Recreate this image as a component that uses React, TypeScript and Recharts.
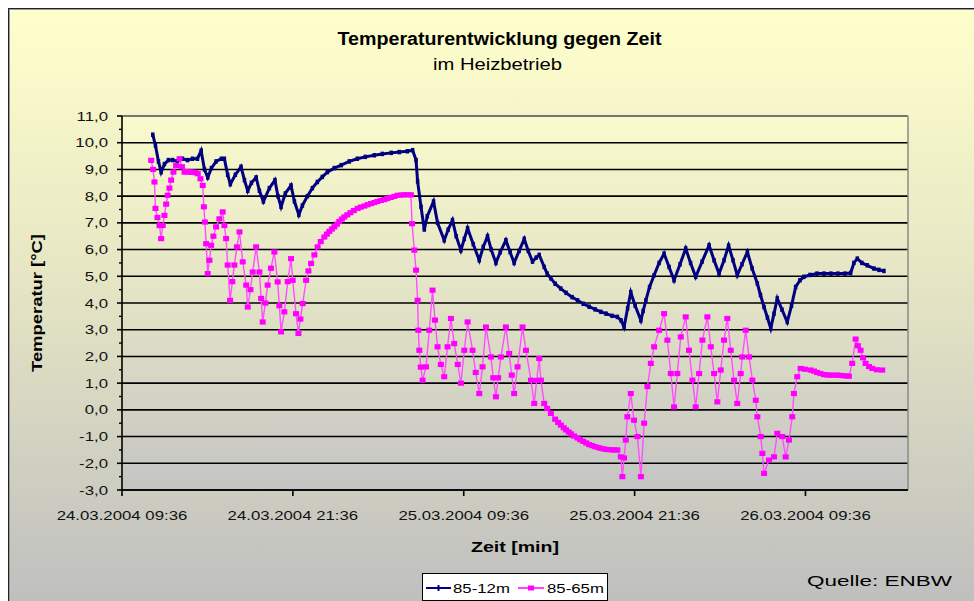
import React from 'react';
import { LineChart, Line, XAxis, YAxis, CartesianGrid, ReferenceLine, Legend } from 'recharts';

const FONT = '"Liberation Sans", Arial, Helvetica, sans-serif';
const SX = 1.4;

const seriesNames = ['85-12m', '85-65m'];
const seriesColors = ['#000080', '#ff00ff'];

const Y_MIN = -3;
const Y_MAX = 11;
const yTicks = [-3, -2, -1, 0, 1, 2, 3, 4, 5, 6, 7, 8, 9, 10, 11];
const X_MAX = 55.2;
const xTicks = [0, 12, 24, 36, 48];
const xTickLabels = ['24.03.2004 09:36', '24.03.2004 21:36', '25.03.2004 09:36', '25.03.2004 21:36', '26.03.2004 09:36'];

// hours after 24.03.2004 09:36
const navyHours = [2.16,2.35,2.56,2.75,2.98,3.26,3.56,3.89,4.25,4.60,4.95,5.30,5.56,5.79,6.02,6.28,6.61,6.98,7.19,7.42,7.61,7.96,8.36,8.60,8.83,9.09,9.42,9.65,9.93,10.35,10.74,10.95,11.17,11.47,11.87,12.11,12.42,12.67,13.02,13.37,13.72,14.07,14.42,14.91,15.40,15.96,16.53,17.09,17.72,18.28,18.91,19.47,20.04,20.41,20.65,20.76,21.00,21.23,21.44,21.88,22.16,22.63,22.91,23.21,23.47,23.80,24.04,24.27,24.67,25.09,25.37,25.67,25.93,26.26,26.56,26.96,27.26,27.54,27.89,28.25,28.53,28.83,29.09,29.30,29.65,29.86,30.12,30.42,30.82,31.19,31.61,31.99,32.39,32.81,33.23,33.63,34.00,34.42,34.79,35.05,35.26,35.51,35.73,36.04,36.44,36.60,36.79,37.05,37.37,37.72,38.07,38.42,38.77,39.19,39.59,39.93,40.29,40.74,41.23,41.58,41.93,42.28,42.60,42.91,43.21,43.54,43.92,44.25,44.62,44.84,45.09,45.33,45.56,45.79,46.02,46.35,46.72,47.02,47.31,47.61,47.89,48.32,48.81,49.30,49.79,50.28,50.77,51.17,51.40,51.64,51.96,52.34,52.81,53.16,53.51];
const navyTemps = [10.3,9.9,9.3,8.9,9.2,9.35,9.35,9.3,9.4,9.35,9.4,9.4,9.7,9.0,8.7,9.05,9.3,9.4,9.4,8.8,8.45,8.8,9.1,8.6,8.2,8.5,8.7,8.2,7.8,8.3,8.6,8.0,7.6,8.1,8.4,7.8,7.3,7.65,8.0,8.3,8.53,8.72,8.9,9.05,9.16,9.3,9.4,9.47,9.53,9.58,9.62,9.65,9.68,9.72,9.35,8.55,7.6,6.75,7.25,7.8,7.0,6.35,6.75,7.1,6.5,5.97,6.4,6.8,6.2,5.6,6.1,6.5,6.0,5.5,5.9,6.35,5.9,5.5,5.95,6.4,5.95,5.55,5.7,5.8,5.35,5.1,4.92,4.72,4.54,4.38,4.22,4.1,3.97,3.86,3.76,3.67,3.6,3.52,3.48,3.35,3.1,3.8,4.4,3.9,3.35,3.7,4.1,4.6,5.04,5.5,5.85,5.35,4.85,5.45,6.04,5.5,4.98,5.55,6.16,5.6,5.1,5.6,6.15,5.6,5.04,5.45,5.91,5.3,4.73,4.3,3.85,3.45,3.05,3.6,4.17,3.75,3.29,3.9,4.6,4.85,4.98,5.05,5.1,5.1,5.1,5.1,5.1,5.12,5.5,5.66,5.5,5.41,5.29,5.24,5.2];

const pinkHours = [2.05,2.18,2.28,2.35,2.49,2.63,2.75,2.86,2.98,3.10,3.21,3.33,3.45,3.61,3.80,4.04,4.21,4.39,4.67,4.97,5.32,5.51,5.67,5.75,5.82,5.91,6.02,6.14,6.26,6.42,6.61,6.84,7.07,7.19,7.31,7.42,7.59,7.75,7.89,8.07,8.25,8.48,8.72,8.83,9.02,9.18,9.42,9.65,9.77,9.88,10.07,10.23,10.46,10.70,10.93,11.05,11.17,11.40,11.64,11.87,11.99,12.22,12.39,12.53,12.69,12.93,13.09,13.28,13.51,13.74,13.96,14.21,14.56,14.91,15.26,15.61,16.04,16.55,17.02,17.49,17.93,18.42,18.88,19.35,19.82,20.29,20.37,20.53,20.65,20.76,20.81,20.88,20.98,21.11,21.35,21.58,21.81,21.98,22.16,22.39,22.63,22.86,23.10,23.33,23.58,23.80,24.04,24.27,24.62,24.84,25.09,25.32,25.56,25.91,26.07,26.26,26.42,26.61,26.96,27.19,27.37,27.54,27.78,28.13,28.37,28.72,28.95,29.12,29.30,29.42,29.65,29.86,30.12,30.42,30.82,31.19,31.54,31.99,32.39,32.81,33.23,33.63,34.00,34.42,34.79,35.03,35.14,35.26,35.38,35.49,35.73,35.96,36.20,36.44,36.67,36.90,37.14,37.37,37.72,38.07,38.30,38.54,38.77,39.00,39.24,39.59,39.82,40.06,40.29,40.53,40.76,41.11,41.35,41.58,41.81,42.05,42.28,42.51,42.75,42.98,43.21,43.45,43.56,43.80,44.04,44.27,44.51,44.62,44.86,44.97,45.09,45.44,45.79,46.02,46.37,46.61,46.84,47.07,47.19,47.42,47.66,47.96,48.36,48.81,49.30,49.72,50.23,50.63,51.05,51.28,51.52,51.68,51.87,52.04,52.22,52.46,52.69,53.02,53.39];
const pinkTemps = [9.34,9.0,8.53,7.54,7.2,6.9,6.41,6.9,7.28,7.7,8.03,8.3,8.6,8.9,9.15,9.4,9.1,8.9,8.9,8.9,8.84,8.65,8.4,7.6,7.03,6.22,5.1,5.6,6.16,6.5,6.85,7.15,7.41,6.9,6.41,5.42,4.1,4.8,5.42,6.1,6.66,5.54,4.67,3.85,4.5,5.16,6.1,5.16,4.17,3.29,4.0,4.67,5.3,5.91,4.79,3.9,2.92,3.67,4.8,5.66,4.85,3.6,2.86,3.4,3.98,4.85,5.2,5.48,5.8,6.1,6.3,6.47,6.68,6.85,7.05,7.22,7.38,7.54,7.63,7.72,7.8,7.87,7.95,8.03,8.05,8.05,6.97,5.98,5.23,4.1,2.98,2.23,1.6,1.11,1.61,2.98,4.48,3.36,2.36,1.7,1.24,2.36,3.42,2.48,1.7,1.0,2.23,3.29,2.23,1.4,0.61,1.61,3.1,1.98,1.2,0.49,1.2,1.98,3.1,2.11,1.3,0.61,1.61,3.1,2.23,1.11,0.24,1.1,1.92,1.11,0.24,0.05,-0.13,-0.35,-0.57,-0.75,-0.9,-1.05,-1.18,-1.3,-1.38,-1.44,-1.48,-1.5,-1.5,-1.76,-2.5,-1.8,-1.13,-0.26,0.61,-0.39,-1.0,-2.5,-0.5,0.87,1.74,2.36,2.98,3.6,2.61,1.36,0.11,1.36,2.73,3.48,2.23,1.11,0.11,1.36,2.61,3.48,2.36,1.36,0.3,1.49,2.61,3.42,2.23,1.11,0.24,1.36,1.98,2.98,1.98,1.11,0.36,-0.26,-1.0,-1.63,-2.38,-1.88,-1.76,-0.88,-1.0,-1.76,-1.13,-0.26,0.61,1.24,1.55,1.52,1.49,1.4,1.32,1.3,1.3,1.28,1.26,1.74,2.65,2.4,2.23,1.95,1.74,1.62,1.55,1.5,1.49];

// further readings along the smooth stretches of 85-65m
const pinkMoreHours = [4.53,4.82,5.15,14.39,14.74,15.09,15.44,15.82,16.28,16.77,17.25,17.72,18.18,18.63,19.12,19.58,20.06,30.63,31.02,31.37,31.75,32.18,32.60,33.02,33.44,33.82,34.21,34.60,48.60,49.05,49.51,49.96,50.42,50.84];
const pinkMoreTemps = [8.92,8.9,8.88,6.58,6.77,6.95,7.14,7.3,7.46,7.59,7.68,7.76,7.84,7.91,7.99,8.04,8.05,-0.47,-0.67,-0.83,-0.98,-1.12,-1.24,-1.34,-1.41,-1.46,-1.49,-1.5,1.45,1.36,1.31,1.3,1.29,1.27];

const navyData = navyHours.map((h, i) => ({ h, v: navyTemps[i] }));
const pinkData = pinkHours
  .map((h, i) => ({ h, v: pinkTemps[i] }))
  .concat(pinkMoreHours.map((h, i) => ({ h, v: pinkMoreTemps[i] })))
  .sort((a, b) => a.h - b.h);

const fmtY = (v: number) => v.toFixed(1).replace('.', ',');

const YTick = (props: any) => {
  const { x, y, payload, height } = props;
  const axisX = x + 8;
  const h = typeof height === 'number' && height > 0 ? height : 374;
  const half = h / ((Y_MAX - Y_MIN) * 2);
  return (
    <g>
      {payload.value < Y_MAX && (
        <line x1={axisX - 3} x2={axisX} y1={y - half} y2={y - half} stroke="#000" strokeWidth={1.4} />
      )}
      <text
        transform={`translate(${axisX - 14} ${y + 4.5}) scale(${SX} 1)`}
        textAnchor="end"
        fontSize={12}
        fill="#111"
        fontFamily={FONT}
      >
        {fmtY(payload.value)}
      </text>
    </g>
  );
};

const XTick = (props: any) => {
  const { x, y, payload } = props;
  const idx = xTicks.indexOf(payload.value);
  return (
    <text
      transform={`translate(${x} ${y + 22}) scale(${SX} 1)`}
      textAnchor="middle"
      fontSize={12}
      fill="#111"
      fontFamily={FONT}
    >
      {idx >= 0 ? xTickLabels[idx] : ''}
    </text>
  );
};

const NavyDot = (p: any) => {
  if (p.cx == null || p.cy == null) return <g key={`n${p.index}`} />;
  return <rect key={`n${p.index}`} x={p.cx - 1.75} y={p.cy - 2.25} width={3.5} height={4.5} fill={seriesColors[0]} />;
};

const PinkDot = (p: any) => {
  if (p.cx == null || p.cy == null) return <g key={`p${p.index}`} />;
  return <rect key={`p${p.index}`} x={p.cx - 3} y={p.cy - 2.6} width={6} height={5.2} fill={seriesColors[1]} />;
};

const LegendBox = () => (
  <svg width={186} height={28} style={{ display: 'block' }}>
    <rect x={0.5} y={0.5} width={185} height={27} fill="#fff" stroke="#000" strokeWidth={1} />
    <line x1={4} x2={29} y1={15} y2={15} stroke={seriesColors[0]} strokeWidth={2} />
    <line x1={16.5} x2={16.5} y1={12} y2={18} stroke={seriesColors[0]} strokeWidth={2} />
    <text transform={`translate(31 19.5) scale(${SX} 1)`} fontSize={12} fontFamily={FONT} fill="#000">
      {seriesNames[0]}
    </text>
    <line x1={96} x2={122} y1={15} y2={15} stroke={seriesColors[1]} strokeWidth={1.5} />
    <rect x={106} y={12.5} width={6} height={5} fill={seriesColors[1]} />
    <text transform={`translate(125 19.5) scale(${SX} 1)`} fontSize={12} fontFamily={FONT} fill="#000">
      {seriesNames[1]}
    </text>
  </svg>
);

export default function App() {
  return (
    <div
      style={{
        position: 'fixed',
        left: 8,
        top: 8,
        width: 966,
        height: 593,
        overflow: 'hidden',
        background: 'linear-gradient(180deg, #ffffcc 0%, #e6e6c4 45%, #bfbfbf 100%)',
        boxShadow: 'inset 1px 1px 0 #222, inset 2px 2px 0 #999',
        fontFamily: FONT,
      }}
    >
      <LineChart width={966} height={593} margin={{ top: 108, right: 66, bottom: 71, left: 50 }}>
        <defs>
          <linearGradient id="plotBg" x1="0" y1="0" x2="0" y2="1">
            <stop offset="0%" stopColor="#fafacc" />
            <stop offset="50%" stopColor="#e2e2c6" />
            <stop offset="100%" stopColor="#c4c4c4" />
          </linearGradient>
        </defs>
        <CartesianGrid vertical={false} stroke="#000" strokeWidth={1.6} fill="url(#plotBg)" fillOpacity={1} />
        <XAxis
          dataKey="h"
          type="number"
          domain={[0, X_MAX]}
          ticks={xTicks}
          interval={0}
          allowDataOverflow
          tick={<XTick />}
          tickSize={6}
          tickMargin={2}
          height={40}
          axisLine={{ stroke: '#000', strokeWidth: 1.6 }}
          tickLine={{ stroke: '#000', strokeWidth: 1.6 }}
        />
        <YAxis
          type="number"
          domain={[Y_MIN, Y_MAX]}
          ticks={yTicks}
          interval={0}
          allowDataOverflow
          tick={<YTick />}
          tickSize={5}
          tickMargin={3}
          width={64}
          axisLine={{ stroke: '#000', strokeWidth: 1.6 }}
          tickLine={{ stroke: '#000', strokeWidth: 1.6 }}
        />
        <ReferenceLine y={Y_MAX} stroke="#8a8a8a" strokeWidth={1.5} />
        <ReferenceLine x={X_MAX} stroke="#8a8a8a" strokeWidth={1.5} />
        <Legend
          layout="horizontal"
          align="center"
          verticalAlign="middle"
          content={<LegendBox />}
          wrapperStyle={{ left: 414, top: 565, width: 186, height: 28 }}
        />
        <Line
          data={navyData}
          dataKey="v"
          name={seriesNames[0]}
          type="linear"
          stroke={seriesColors[0]}
          strokeWidth={3}
          dot={NavyDot}
          activeDot={false}
          isAnimationActive={false}
        />
        <Line
          data={pinkData}
          dataKey="v"
          name={seriesNames[1]}
          type="linear"
          stroke="#ff4dff"
          strokeWidth={1.4}
          dot={PinkDot}
          activeDot={false}
          isAnimationActive={false}
        />
      </LineChart>
      <svg
        width={966}
        height={593}
        style={{ position: 'absolute', left: 0, top: 0, pointerEvents: 'none' }}
      >
        <text x={491.5} y={37} textAnchor="middle" fontSize={18} fontWeight="bold" fontFamily={FONT} fill="#000" textLength={324} lengthAdjust="spacingAndGlyphs">
          Temperaturentwicklung gegen Zeit
        </text>
        <text x={489.5} y={62} textAnchor="middle" fontSize={16} fontFamily={FONT} fill="#000" textLength={129} lengthAdjust="spacingAndGlyphs">
          im Heizbetrieb
        </text>
        <text x={507} y={544} textAnchor="middle" fontSize={14} fontWeight="bold" fontFamily={FONT} fill="#000" textLength={88} lengthAdjust="spacingAndGlyphs">
          Zeit [min]
        </text>
        <text transform="translate(34 295) rotate(-90)" textAnchor="middle" fontSize={14} fontWeight="bold" fontFamily={FONT} fill="#000" textLength={138} lengthAdjust="spacingAndGlyphs">
          Temperatur [°C]
        </text>
        <text x={871.5} y={578} textAnchor="middle" fontSize={15} fontFamily={FONT} fill="#000" textLength={145} lengthAdjust="spacingAndGlyphs">
          Quelle: ENBW
        </text>
      </svg>
    </div>
  );
}
